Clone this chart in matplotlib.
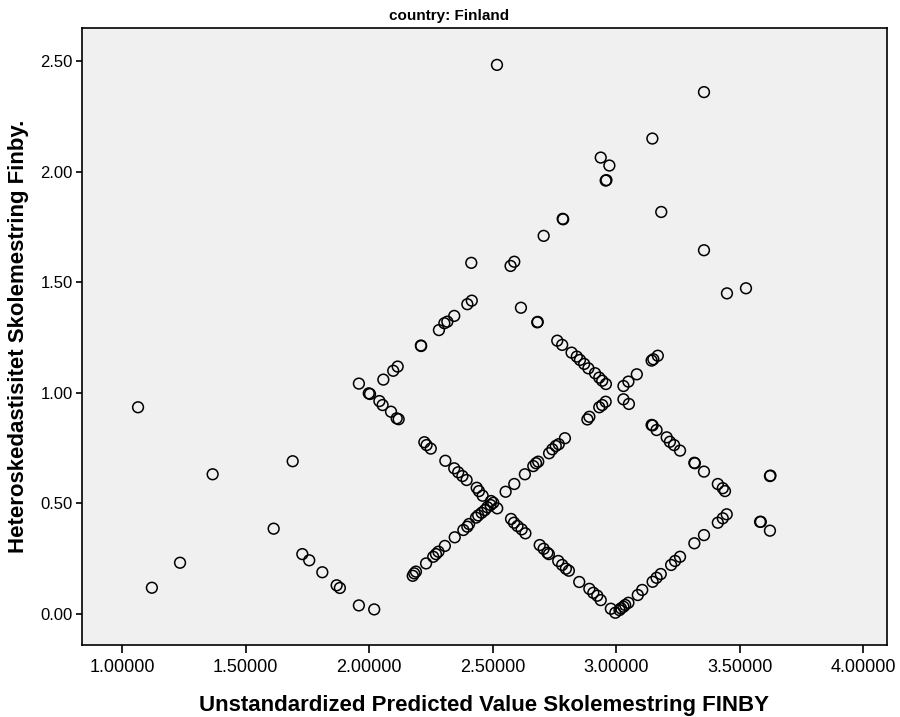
import matplotlib
matplotlib.use("Agg")
import matplotlib.pyplot as plt
import numpy as np

plt.rcParams['font.family'] = ['Liberation Sans', 'DejaVu Sans']

title = "country: Finland"
x_label = "Unstandardized Predicted Value Skolemestring FINBY"
y_label = "Heteroskedastisitet Skolemestring Finby."

x_ticks = [1.0, 1.5, 2.0, 2.5, 3.0, 3.5, 4.0]
x_tick_labels = ["1.00000", "1.50000", "2.00000", "2.50000", "3.00000", "3.50000", "4.00000"]
y_ticks = [0.0, 0.5, 1.0, 1.5, 2.0, 2.5]
y_tick_labels = ["0.00", "0.50", "1.00", "1.50", "2.00", "2.50"]

# Scattered cases at the low end of the predicted range
pred_low = [1.064, 1.120, 1.234, 1.366, 1.613, 1.690, 1.729, 1.757, 1.810, 1.868,
            1.881, 1.958, 2.020]
resid_low = [0.935, 0.119, 0.232, 0.632, 0.386, 0.691, 0.271, 0.243, 0.189, 0.130,
             0.118, 0.039, 0.021]

# Cases observed at score 1
pred_s1 = [2.057, 2.097, 2.115, 2.209, 2.210, 2.282, 2.304, 2.316, 2.344, 2.397,
           2.415, 2.572, 2.587, 2.706, 2.783, 2.785, 2.957, 2.960, 3.146, 3.355]
resid_s1 = [1.060, 1.100, 1.119, 1.214, 1.212, 1.284, 1.315, 1.322, 1.348, 1.401,
            1.417, 1.574, 1.593, 1.710, 1.787, 1.785, 1.960, 1.962, 2.150, 2.360]

# Cases observed at score 2
pred_s2 = [2.176, 2.182, 2.189, 2.230, 2.259, 2.270, 2.280, 2.306, 2.346, 2.381,
           2.397, 2.404, 2.432, 2.441, 2.455, 2.468, 2.478, 2.491, 2.502, 2.552,
           2.587, 2.630, 2.664, 2.675, 2.684, 2.728, 2.741, 2.755, 2.767, 2.792,
           2.883, 2.891, 2.931, 2.943, 2.957, 3.029, 3.049, 3.083, 3.143, 3.150,
           3.168]
resid_s2 = [0.173, 0.184, 0.192, 0.229, 0.259, 0.271, 0.282, 0.308, 0.347, 0.380,
            0.395, 0.407, 0.436, 0.446, 0.458, 0.470, 0.483, 0.493, 0.503, 0.553,
            0.588, 0.632, 0.669, 0.682, 0.689, 0.727, 0.745, 0.760, 0.768, 0.795,
            0.880, 0.892, 0.935, 0.945, 0.960, 1.031, 1.051, 1.084, 1.146, 1.152,
            1.168]

# Cases observed at score 3
pred_s3 = [1.958, 1.998, 2.003, 2.041, 2.054, 2.088, 2.111, 2.119, 2.223, 2.232,
           2.249, 2.308, 2.344, 2.360, 2.377, 2.394, 2.435, 2.444, 2.459, 2.493,
           2.518, 2.574, 2.586, 2.600, 2.617, 2.632, 2.690, 2.706, 2.721, 2.727,
           2.765, 2.781, 2.796, 2.808, 2.850, 2.891, 2.907, 2.923, 2.937, 2.978,
           2.996, 3.013, 3.019, 3.029, 3.036, 3.049, 3.087, 3.105, 3.147, 3.163,
           3.180, 3.222, 3.238, 3.258, 3.316, 3.355, 3.411, 3.431, 3.447, 3.582,
           3.585, 3.622]
resid_s3 = [1.042, 0.998, 0.995, 0.963, 0.945, 0.915, 0.885, 0.881, 0.777, 0.764,
            0.748, 0.693, 0.659, 0.641, 0.624, 0.606, 0.571, 0.556, 0.535, 0.511,
            0.478, 0.430, 0.413, 0.398, 0.383, 0.365, 0.312, 0.295, 0.277, 0.271,
            0.240, 0.222, 0.205, 0.196, 0.145, 0.114, 0.096, 0.083, 0.063, 0.024,
            0.006, 0.018, 0.026, 0.033, 0.041, 0.051, 0.086, 0.109, 0.146, 0.164,
            0.181, 0.222, 0.240, 0.259, 0.320, 0.357, 0.413, 0.433, 0.451, 0.417,
            0.417, 0.377]

# Cases observed at score 4
pred_s4 = [2.413, 2.614, 2.680, 2.682, 2.761, 2.781, 2.819, 2.840, 2.853, 2.870,
           2.887, 2.914, 2.931, 2.943, 2.958, 3.029, 3.051, 3.143, 3.147, 3.163,
           3.204, 3.217, 3.234, 3.258, 3.316, 3.318, 3.355, 3.411, 3.431, 3.440,
           3.622, 3.624]
resid_s4 = [1.588, 1.385, 1.319, 1.321, 1.236, 1.217, 1.182, 1.164, 1.149, 1.131,
            1.111, 1.089, 1.069, 1.055, 1.040, 0.971, 0.950, 0.855, 0.853, 0.832,
            0.799, 0.779, 0.764, 0.739, 0.684, 0.682, 0.644, 0.588, 0.569, 0.556,
            0.624, 0.626]

# Cases observed at score 5
pred_s5 = [2.517, 2.937, 2.972, 3.182, 3.355, 3.448, 3.525]
resid_s5 = [2.483, 2.064, 2.028, 1.818, 1.645, 1.450, 1.473]

pred = np.concatenate([pred_low, pred_s1, pred_s2, pred_s3, pred_s4, pred_s5])
resid = np.concatenate([resid_low, resid_s1, resid_s2, resid_s3, resid_s4, resid_s5])

fig = plt.figure(figsize=(9.0, 7.17), dpi=100)
ax = fig.add_axes([0.0908, 0.1004, 0.8948, 0.8606])
ax.set_facecolor('#F0F0F0')

ax.scatter(pred, resid, s=60, facecolors='none', edgecolors='black',
           linewidths=1.1, zorder=3)

ax.set_xlim(0.836, 4.096)
ax.set_ylim(-0.140, 2.650)

ax.set_xticks(x_ticks)
ax.set_xticklabels(x_tick_labels, fontsize=13)
ax.set_yticks(y_ticks)
ax.set_yticklabels(y_tick_labels, fontsize=12)
ax.tick_params(axis='x', direction='out', length=6, width=1.2, pad=4)
ax.tick_params(axis='y', direction='out', length=4.5, width=1.2, pad=2)

for side in ax.spines.values():
    side.set_linewidth(1.2)
    side.set_color('black')

ax.set_xlabel(x_label, fontsize=16, fontweight='bold', labelpad=14)
ax.set_ylabel(y_label, fontsize=16, fontweight='bold', labelpad=8)
fig.text(0.499, 0.978, title, ha='center', va='center', fontsize=11,
         fontweight='bold')

fig.savefig('out.png', dpi=100)
